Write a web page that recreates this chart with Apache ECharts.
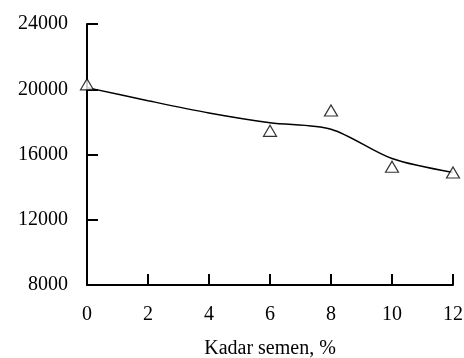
<!DOCTYPE html>
<html>
<head>
<meta charset="utf-8">
<script src="https://cdn.jsdelivr.net/npm/echarts@6/dist/echarts.min.js"></script>
<style>
  html, body { margin: 0; padding: 0; background: #fff; }
  #chart { width: 464px; height: 358px; }
</style>
</head>
<body>
<div id="chart"></div>
<script>
// titik pengamatan
const kadarSemen = [0, 6, 8, 10, 12];
const nilaiUji = [20300, 17450, 18700, 15250, 14900];

// garis kecenderungan
const kadarGaris = [0, 2, 4, 6, 8, 10, 12];
const nilaiGaris = [20100, 19300, 18550, 17950, 17550, 15750, 14900];

const xTicks = [0, 2, 4, 6, 8, 10, 12];
const yTicks = [8000, 12000, 16000, 20000, 24000];

const chart = echarts.init(document.getElementById('chart'));

const fontFam = '"Liberation Serif", "DejaVu Serif", serif';

chart.setOption({
  animation: false,
  grid: { left: 87, right: 11, top: 24, bottom: 73, containLabel: false, outerBoundsMode: 'none' },
  xAxis: {
    type: 'value',
    min: xTicks[0],
    max: xTicks[xTicks.length - 1],
    interval: 2,
    name: 'Kadar semen, %',
    nameLocation: 'middle',
    nameGap: 54,
    nameTextStyle: { fontFamily: fontFam, fontSize: 20, color: '#000' },
    axisLine: { lineStyle: { color: '#000', width: 2 } },
    axisTick: { inside: true, length: 11, lineStyle: { color: '#000', width: 2 } },
    axisLabel: { fontFamily: fontFam, fontSize: 20, color: '#000', margin: 20 },
    splitLine: { show: false }
  },
  yAxis: {
    type: 'value',
    min: yTicks[0],
    max: yTicks[yTicks.length - 1],
    interval: 4000,
    axisLine: { onZero: false, lineStyle: { color: '#000', width: 2 } },
    axisTick: { inside: true, length: 11, lineStyle: { color: '#000', width: 2 } },
    axisLabel: {
      fontFamily: fontFam, fontSize: 20, color: '#000', margin: 19,
      formatter: (v) => String(v)
    },
    splitLine: { show: false }
  },
  series: [
    {
      type: 'line',
      data: kadarGaris.map((x, i) => [x, nilaiGaris[i]]),
      smooth: 0.3,
      showSymbol: false,
      lineStyle: { color: '#000', width: 1.5 },
      z: 2
    },
    {
      type: 'scatter',
      data: kadarSemen.map((x, i) => [x, nilaiUji[i]]),
      symbol: 'triangle',
      symbolSize: [13, 11],
      itemStyle: { color: '#fff', borderColor: '#000', borderWidth: 1.2 },
      z: 3
    }
  ]
});
</script>
</body>
</html>
